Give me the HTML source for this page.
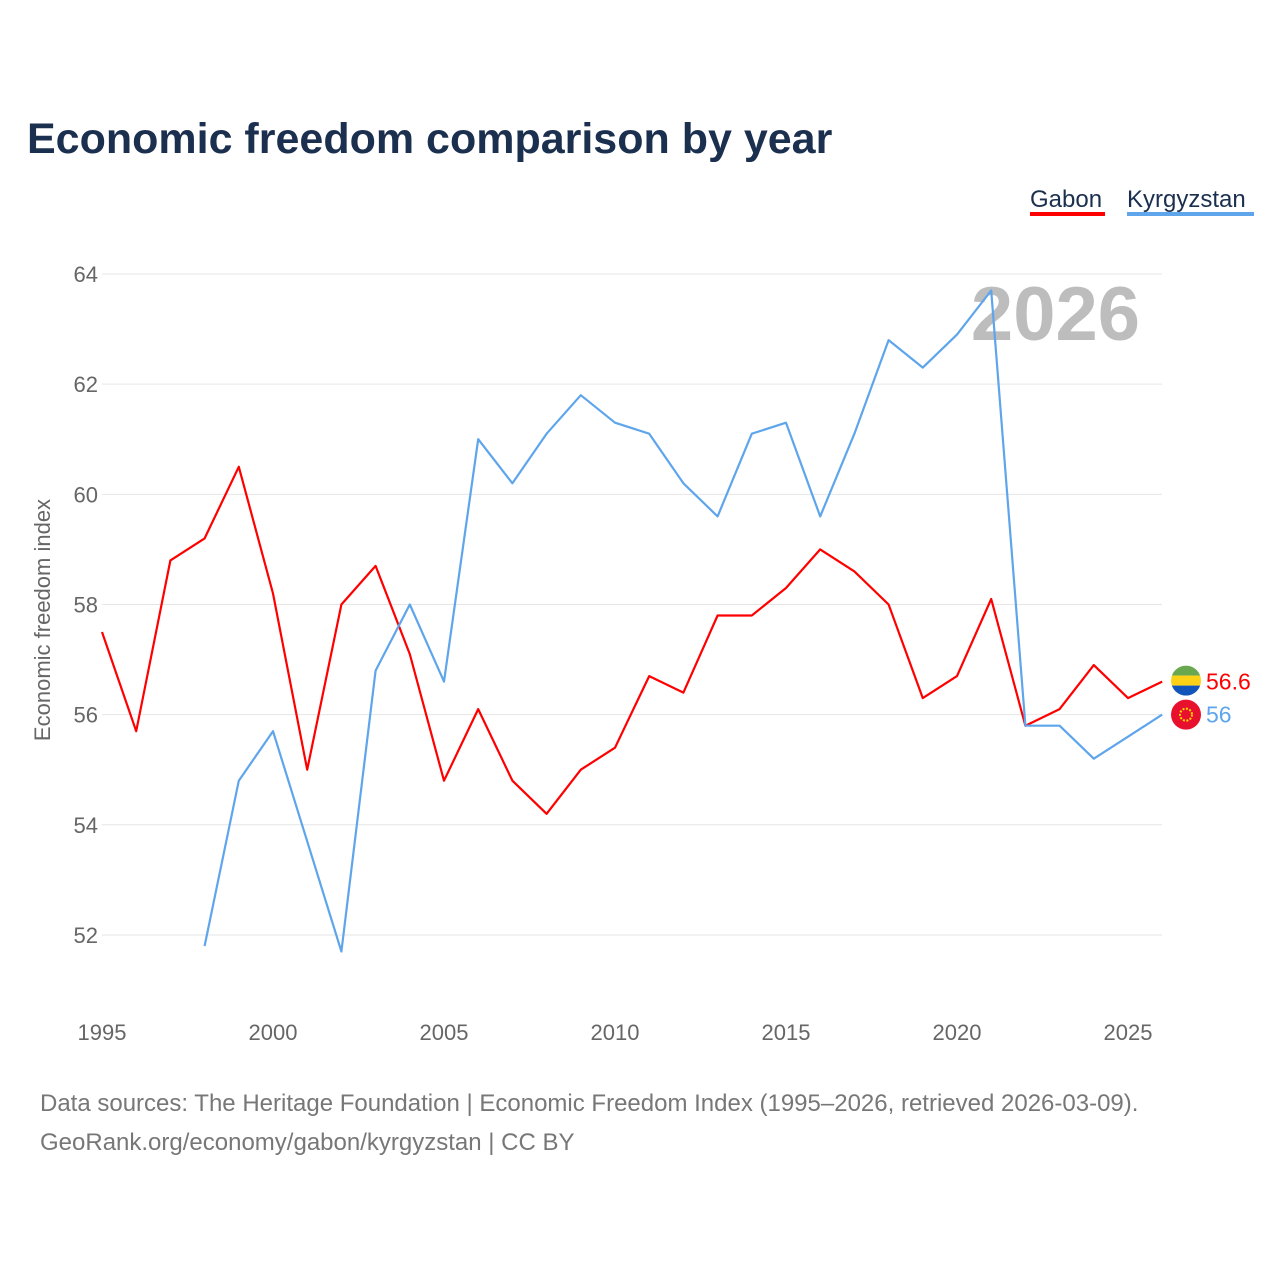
<!DOCTYPE html>
<html><head><meta charset="utf-8">
<style>
body{margin:0;background:#fff;width:1280px;height:1280px;overflow:hidden;font-family:"Liberation Sans",sans-serif}
</style></head>
<body>
<svg width="1280" height="1280" id="chart">
<text x="27" y="153" font-size="43" font-weight="bold" fill="#1b2f4f">Economic freedom comparison by year</text>
<g>
<text x="1030" y="207" font-size="24" fill="#1b2f4f">Gabon</text>
<rect x="1030" y="212" width="75" height="4" fill="#ff0000"/>
<text x="1127" y="207" font-size="24" fill="#1b2f4f">Kyrgyzstan</text>
<rect x="1127" y="212" width="127" height="4" fill="#5ea5ec"/>
</g>
<text x="1140" y="340" font-size="76" font-weight="bold" fill="#bdbdbd" text-anchor="end">2026</text>
<text transform="translate(50,620) rotate(-90)" font-size="22" fill="#666" text-anchor="middle">Economic freedom index</text>
<g id="grid"></g><g id="series"></g>
<text x="40" y="1111" font-size="24" fill="#777">Data sources: The Heritage Foundation | Economic Freedom Index (1995–2026, retrieved 2026-03-09).</text>
<text x="40" y="1150" font-size="24" fill="#777">GeoRank.org/economy/gabon/kyrgyzstan | CC BY</text>
</svg>
<script>
const years=[1995,1996,1997,1998,1999,2000,2001,2002,2003,2004,2005,2006,2007,2008,2009,2010,2011,2012,2013,2014,2015,2016,2017,2018,2019,2020,2021,2022,2023,2024,2025,2026];
const gabon=[57.5,55.7,58.8,59.2,60.5,58.2,55.0,58.0,58.7,57.1,54.8,56.1,54.8,54.2,55.0,55.4,56.7,56.4,57.8,57.8,58.3,59.0,58.6,58.0,56.3,56.7,58.1,55.8,56.1,56.9,56.3,56.6];
const kyrgyzstan=[null,null,null,51.8,54.8,55.7,53.7,51.7,56.8,58.0,56.6,61.0,60.2,61.1,61.8,61.3,61.1,60.2,59.6,61.1,61.3,59.6,61.1,62.8,62.3,62.9,63.7,55.8,55.8,55.2,55.6,56.0];
const yTicks=[52,54,56,58,60,62,64];
const xTicks=[1995,2000,2005,2010,2015,2020,2025];
const NS="http://www.w3.org/2000/svg";
const X=y=>102+(y-1995)*34.2;
const Y=v=>274+(64-v)*55.08;
const grid=document.getElementById('grid'),ser=document.getElementById('series');
function mk(tag,attrs,parent,txt){const e=document.createElementNS(NS,tag);for(const k in attrs)e.setAttribute(k,attrs[k]);if(txt!==undefined)e.textContent=txt;parent.appendChild(e);return e;}
yTicks.forEach(t=>{
  const l=mk('line',{x1:102,x2:1162,y1:Y(t),y2:Y(t),stroke:'#e6e6e6','stroke-width':1},grid);
  
  
  const tx=mk('text',{x:98,y:Y(t)+8,'font-size':22,fill:'#666','text-anchor':'end'},grid,t);
  
  
});
xTicks.forEach(t=>{
  const tx=mk('text',{x:X(t),y:1040,'font-size':22,fill:'#666','text-anchor':'middle'},grid,t);
  
  
});
function line(vals,color,name){
  let d='';let pen=false;
  vals.forEach((v,i)=>{if(v==null){pen=false;return;}d+=(pen?'L':'M')+X(years[i]).toFixed(1)+','+Y(v).toFixed(1);pen=true;});
  const p=mk('path',{d:d,fill:'none',stroke:color,'stroke-width':2.2,'stroke-linejoin':'round'},ser);
  
  
}
line(gabon,'#ff0000','gabon-line');
line(kyrgyzstan,'#5ea5ec','kyrgyzstan-line');
const gl=gabon[gabon.length-1],kl=kyrgyzstan[kyrgyzstan.length-1];
const fx=1186;
// Gabon flag
const gy=Y(gl)-1;
const defs=mk('defs',{},ser);
const cp=mk('clipPath',{id:'gc'},defs);mk('circle',{cx:fx,cy:gy,r:15},cp);
const gf=mk('g',{'clip-path':'url(#gc)'},ser);


mk('rect',{x:fx-15,y:gy-15,width:30,height:10,fill:'#6aa84f'},gf);
mk('rect',{x:fx-15,y:gy-5,width:30,height:10,fill:'#fcd116'},gf);
mk('rect',{x:fx-15,y:gy+5,width:30,height:10,fill:'#1155bb'},gf);
const ky=Y(kl);
const kf=mk('g',{},ser);


mk('circle',{cx:fx,cy:ky,r:15,fill:'#e8112d'},kf);
mk('circle',{cx:fx,cy:ky,r:6,fill:'none',stroke:'#ffd700','stroke-width':2,'stroke-dasharray':'2 1.5'},kf);
const t1=mk('text',{x:1206,y:Y(gl)+8,'font-size':23,fill:'#ff0000'},ser,gl);


const t2=mk('text',{x:1206,y:Y(kl)+8,'font-size':23,fill:'#5ea5ec'},ser,kl);


</script>
</body></html>
